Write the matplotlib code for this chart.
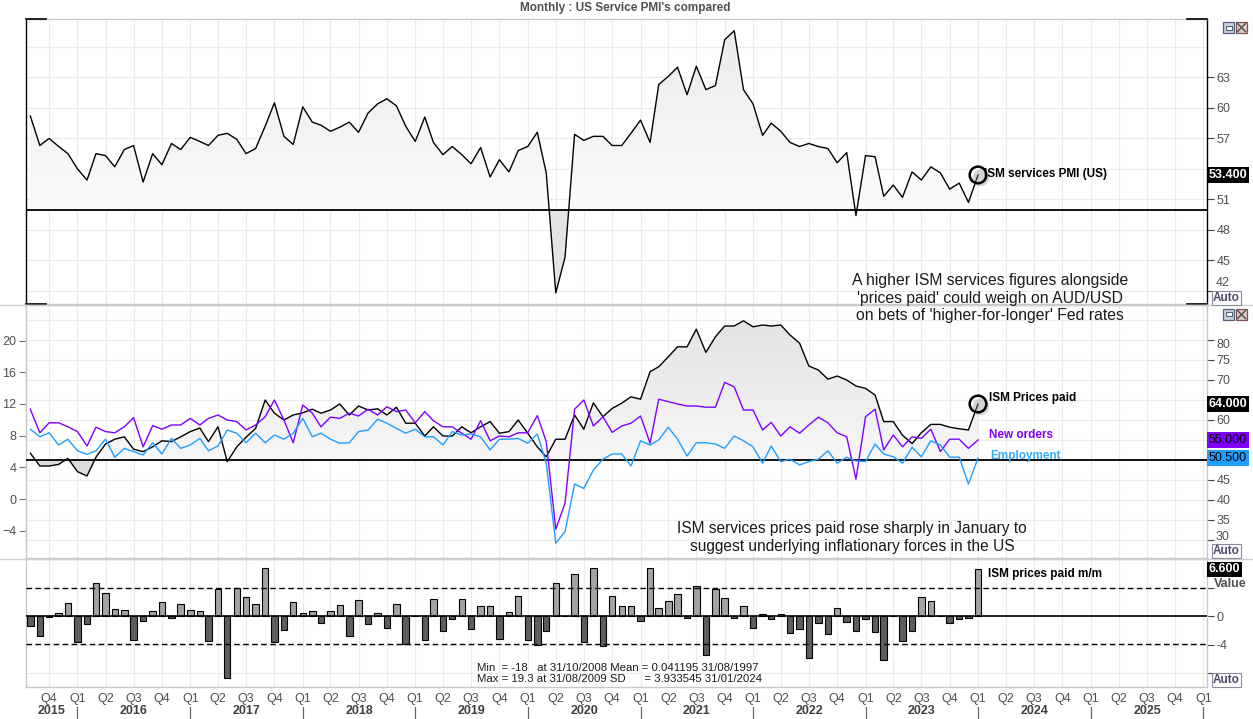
import numpy as np
import pandas as pd
import matplotlib
matplotlib.use('Agg')
import matplotlib.pyplot as plt
import matplotlib.dates as mdates
import matplotlib.patheffects as pe
from matplotlib.lines import Line2D
from matplotlib.patches import Rectangle, PathPatch
from matplotlib.path import Path
from matplotlib.colors import LinearSegmentedColormap

# ---- data, monthly Aug 2015 .. Jan 2024 ----
months = pd.date_range('2015-08-01', '2024-01-01', freq='MS')

ism_pmi = [59.2, 56.3, 57.0, 56.2, 55.5, 54.0, 52.9, 55.5, 55.3, 54.2, 55.9, 56.3, 52.7, 55.5, 54.4, 56.5,
           55.9, 57.1, 56.7, 56.3, 57.3, 57.5, 56.9, 55.5, 56.0, 58.2, 60.5, 57.2, 56.4, 60.1, 58.6, 58.3,
           57.7, 58.1, 58.6, 57.6, 59.5, 60.4, 60.9, 60.2, 58.2, 56.7, 59.1, 56.6, 55.4, 56.2, 55.4, 54.5,
           56.1, 53.2, 54.9, 53.7, 55.8, 56.2, 57.6, 53.6, 41.8, 45.3, 57.4, 56.8, 57.2, 57.2, 56.3, 56.3,
           57.5, 58.8,
           56.6, 62.3, 63.1, 64.0, 61.3, 64.1, 61.8, 62.2, 66.7, 67.6, 61.8, 60.4, 57.3, 58.5, 57.7, 56.6,
           56.2, 56.5, 56.2, 56.0, 54.6, 55.6, 49.4, 55.3, 55.2, 51.3, 52.4, 51.2, 53.7, 52.9, 54.2, 53.6,
           52.0, 52.6, 50.7, 53.4]

prices_paid = [51.7, 48.5, 48.5, 48.9, 50.4, 47.1, 46.0, 50.7, 54.0, 55.2, 55.8, 52.7, 52.1, 53.3, 54.8, 54.6,
               55.8, 57.1, 58.0, 54.6, 58.3, 49.6, 53.3, 55.7, 57.9, 65.0, 61.7, 60.0, 61.25, 61.8, 62.7, 61.7,
               62.5, 64.0, 61.25, 63.5, 62.5, 62.8, 61.25, 63.2, 59.2, 59.2, 56.0, 58.3, 56.0, 56.0, 58.3, 56.8,
               58.3, 59.6, 56.7, 57.1, 60.0, 56.7, 53.3, 50.8, 55.2, 55.2, 61.25, 57.7, 64.3, 60.8, 62.9, 64.2,
               65.8, 65.2,
               72.1, 73.3, 75.8, 78.3, 78.3, 82.7, 76.9, 80.8, 83.5, 83.5, 84.8, 83.3, 83.75, 83.5, 83.75, 81.25,
               79.2, 73.5, 72.5, 70.2, 71.0, 70.0, 68.5, 67.9, 66.25, 59.6, 59.6, 56.2, 54.1, 56.8, 58.9, 58.9,
               58.2, 57.8, 57.5, 64.0]

new_orders = [62.7, 56.8, 59.3, 59.3, 58.3, 57.1, 53.5, 58.2, 57.1, 56.8, 58.3, 60.6, 53.3, 58.6, 57.7, 58.75,
              58.75, 60.4, 58.75, 60.4, 61.25, 60.0, 59.6, 57.5, 58.75, 60.8, 65.0, 60.0, 54.3, 63.75, 61.7, 58.3,
              60.7, 60.4, 61.7, 61.0, 62.7, 61.25, 63.3, 62.1, 62.5, 59.3, 62.1, 59.8, 58.3, 58.3, 56.7, 55.2,
              59.8, 54.8, 56.0, 55.8, 56.8, 56.8, 61.1, 54.6, 32.7, 39.2, 62.7, 65.0, 58.5, 60.8, 56.9, 58.5,
              59.2, 61.0,
              54.2, 65.2, 64.6, 64.0, 63.5, 63.5, 63.2, 63.2, 69.4, 68.3, 62.5, 62.5, 57.5, 59.4, 56.0, 58.3,
              56.7, 58.75, 60.7, 59.3, 56.8, 55.8, 45.2, 60.8, 62.7, 52.5, 56.25, 53.3, 55.8, 55.4, 57.7, 52.1,
              55.2, 55.2, 52.9, 55.0]

employment = [57.7, 55.8, 56.8, 53.75, 55.2, 52.3, 51.4, 52.3, 55.2, 50.7, 52.9, 52.1, 51.25, 54.3, 51.5, 55.4,
              52.9, 53.75, 55.4, 52.3, 53.5, 57.5, 56.7, 54.3, 56.7, 54.3, 56.25, 55.2, 56.7, 60.4, 55.8, 56.7,
              55.2, 54.2, 54.3, 57.1, 57.5, 60.2, 59.2, 57.9, 56.7, 57.7, 55.8, 55.8, 53.75, 57.1, 56.25, 56.5,
              55.8, 52.5, 55.2, 55.2, 55.4, 54.2, 56.5, 49.2, 29.2, 32.1, 44.0, 42.9, 47.5, 50.2, 51.5, 51.5,
              48.5, 54.8,
              53.75, 55.0, 58.2, 55.2, 51.0, 54.3, 54.3, 54.0, 52.9, 56.0, 54.8, 53.3, 49.2, 53.5, 49.6, 50.2,
              48.75, 49.6, 50.2, 52.3, 49.2, 50.7, 49.75, 49.6, 54.0, 51.5, 50.8, 49.2, 53.2, 50.8, 54.8, 53.75,
              50.7, 50.7, 44.0, 50.5]

prices_mm = [-1.4, -2.8, -0.14, 0.47, 1.86, -3.6, -1.07, 4.65, 3.26, 1.0, 0.93, -3.35, -0.7, 0.74, 2.05, -0.28,
             1.72, 0.88, 0.74, -3.5, 3.9, -8.74, 3.95, 2.7, 1.72, 6.74, -3.6, -1.95, 2.0, 0.47, 0.74, -0.98,
             0.74, 1.58, -2.8, 2.28, -1.1, 0.47, -1.67, 1.72, -3.86, 0.0, -3.35, 2.42, -2.05, -0.37, 2.42, -1.77,
             1.49, 1.49, -3.16, 0.65, 2.88, -3.3, -4.0, -2.05, 4.65, 0.0, 5.9, -3.6, 6.74, -4.23, 2.88, 1.49,
             1.49,
             -0.65, 6.74, 1.16, 2.19, 3.1, -0.28, 4.28, -5.5, 3.9, 2.56, -0.28, 1.44, -1.67, 0.33, -0.37, 0.33,
             -2.33, -1.77, -5.8, -0.98, -2.5, 1.16, -0.84, -2.05, -0.37, -2.19, -6.1, 0.0, -3.5, -2.05, 2.7, 2.14,
             0.0, -0.98, -0.37, -0.23, 6.6]

mm_mean = 0.041195
mm_sd = 3.933545

top_ticks = [42, 45, 48, 51, 54, 57, 60, 63]
top_hidden = [54]           # covered by the last-value box
mid_ticks = [30, 35, 40, 45, 50, 55, 60, 65, 70, 75, 80]
mid_hidden = [50, 55, 65]
mid_left_ticks = [-4, 0, 4, 8, 12, 16, 20]
bot_ticks = [-8, -4, 0, 4]

PURPLE = '#8000ff'
BLUE = '#1e9eff'
GRID = '#ebebeb'
SANS = ['Liberation Sans', 'DejaVu Sans']
NARROW = ['Liberation Sans Narrow', 'Liberation Sans', 'DejaVu Sans']

W, H = 1253, 719
def fx(px):
    return px / W
def fy(py):
    return 1 - py / H


def shade(ax, x, y, base, top_val, dark, light, below):
    xn = mdates.date2num(x)
    y = np.asarray(y, float)
    up = ax.fill_between(xn, y, base, where=y >= base, interpolate=True,
                         facecolor='none', edgecolor='none', zorder=1)
    ax.fill_between(xn, y, base, where=y <= base, interpolate=True,
                    facecolor=below, edgecolor='none', zorder=1)
    clip = PathPatch(Path.make_compound_path(*up.get_paths()), transform=ax.transData,
                     facecolor='none', edgecolor='none')
    ax.add_patch(clip)
    cmap = LinearSegmentedColormap.from_list('shade', [light, dark])
    im = ax.imshow(np.linspace(0, 1, 256).reshape(-1, 1), extent=[xn[0], xn[-1], base, top_val],
                   origin='lower', aspect='auto', cmap=cmap, zorder=1, interpolation='bilinear')
    im.set_clip_path(clip)


def last_box(ax, val, fc, tc, bold=True):
    ax.text(1.0015, val, '%.3f' % val, transform=ax.get_yaxis_transform(), ha='left', va='center',
            color=tc, fontsize=9, fontweight='bold' if bold else 'normal', family=SANS, zorder=10,
            clip_on=False, bbox=dict(boxstyle='square,pad=0.14', fc=fc, ec='none'))


def tick_text(ax, val, txt, dy=0):
    # right-hand tick label that is nudged (as the source chart does near the edges)
    ax.annotate(txt, xy=(1.0, val), xycoords=ax.get_yaxis_transform(), xytext=(6.5, dy),
                textcoords='offset points', ha='left', va='center', fontsize=9, color='#505050',
                family=SANS, annotation_clip=False)


fig = plt.figure(figsize=(12.53, 7.19), dpi=100)
fig.patch.set_facecolor('white')
left, width = fx(26), (1207 - 26) / W
ax1 = fig.add_axes([left, fy(304), width, (304 - 19) / H])
ax2 = fig.add_axes([left, fy(558), width, (558 - 305) / H], sharex=ax1)
ax3 = fig.add_axes([left, fy(687), width, (687 - 559) / H], sharex=ax1)

quarters = pd.date_range('2015-10-01', '2026-01-01', freq='QS')
x_lo = pd.Timestamp('2015-07-18')
x_hi = pd.Timestamp('2026-01-13')

# ---------------- top panel ----------------
ax1.plot(months, ism_pmi, color='black', lw=1.0, zorder=4)
shade(ax1, months, ism_pmi, 50, 68, '#ebebeb', '#fbfbfb', '#e4e4e4')
ax1.axhline(50, color='black', lw=1.3, zorder=3)
ax1.axhline(66, color=GRID, lw=0.8, zorder=0)
ax1.plot(months[-1], ism_pmi[-1], 'o', ms=12, mfc='none', mec='black', mew=1.8, zorder=6,
         path_effects=[pe.SimplePatchShadow(offset=(2, -2), shadow_rgbFace='#888888', alpha=0.35), pe.Normal()])
ax1.annotate('ISM services PMI (US)', xy=(months[-1], ism_pmi[-1]), xytext=(4, 1),
             textcoords='offset points', va='center', ha='left', fontsize=8.5, fontweight='bold',
             family=SANS, zorder=7)
ax1.set_ylim(40.7, 68.75)
ax1.set_yticks(top_ticks)
ax1.set_yticklabels(['' if (t in top_hidden or t == 42) else str(t) for t in top_ticks])
tick_text(ax1, 42, '42', dy=5.5)
last_box(ax1, ism_pmi[-1], 'black', 'white')

# ---------------- middle panel ----------------
ax2.plot(months, prices_paid, color='black', lw=1.0, zorder=4)
ax2.plot(months, new_orders, color=PURPLE, lw=1.0, zorder=4)
ax2.plot(months, employment, color=BLUE, lw=1.0, zorder=4)
shade(ax2, months, prices_paid, 50, 86, '#e3e3e3', '#f7f7f7', '#dcdcdc')
ax2.axhline(50, color='black', lw=1.3, zorder=3)
ax2.axhline(85, color=GRID, lw=0.8, zorder=0)
ax2.plot(months[-1], prices_paid[-1], 'o', ms=12, mfc='none', mec='black', mew=1.8, zorder=6,
         path_effects=[pe.SimplePatchShadow(offset=(2, -2), shadow_rgbFace='#888888', alpha=0.35), pe.Normal()])
ax2.annotate('ISM Prices paid', xy=(months[-1], prices_paid[-1]), xytext=(8, 4),
             textcoords='offset points', va='center', ha='left', fontsize=8.5, fontweight='bold',
             family=SANS, zorder=7)
ax2.annotate('New orders', xy=(months[-1], 56.3), xytext=(8, 0), color=PURPLE,
             textcoords='offset points', va='center', ha='left', fontsize=8.5, fontweight='bold',
             family=SANS, zorder=7)
ax2.annotate('Employment', xy=(months[-1], 51.0), xytext=(9, 0), color='#35acff',
             textcoords='offset points', va='center', ha='left', fontsize=8.5, fontweight='bold',
             family=SANS, zorder=7)
ax2.set_ylim(25.5, 88.75)
ax2.set_yticks(mid_ticks)
ax2.set_yticklabels(['' if (t in mid_hidden or t in (30, 80)) else str(t) for t in mid_ticks])
tick_text(ax2, 80, '80', dy=-3.5)
tick_text(ax2, 30, '30', dy=2.5)
last_box(ax2, prices_paid[-1], 'black', 'white')
last_box(ax2, new_orders[-1], PURPLE, 'black', bold=False)
last_box(ax2, employment[-1], BLUE, 'black', bold=False)

sec = ax2.secondary_yaxis('left', functions=(lambda r: (r - 40.25) / 1.98, lambda l: 40.25 + 1.98 * l))
sec.set_yticks(mid_left_ticks)
sec.tick_params(axis='y', direction='out', length=5, pad=2, labelsize=9, labelcolor='#505050', color='#777777')
for lab in sec.get_yticklabels():
    lab.set_family(SANS)
sec.spines['left'].set_color('#c8c8c8')

# ---------------- bottom panel ----------------
bar_cols = ['#a3a3a3' if v >= 0 else '#5e5e5e' for v in prices_mm]
ax3.bar(months, prices_mm, width=21, color=bar_cols, edgecolor='black', linewidth=0.8, zorder=4)
ax3.axhline(0, color='black', lw=1.2, zorder=5)
ax3.axhline(mm_mean + mm_sd, color='black', lw=1.0, dashes=(4, 2.5), zorder=5)
ax3.axhline(mm_mean - mm_sd, color='black', lw=1.0, dashes=(4, 2.5), zorder=5)
ax3.annotate('ISM prices paid m/m', xy=(months[-1], 5.9), xytext=(7, 0), textcoords='offset points',
             va='center', ha='left', fontsize=8.5, fontweight='bold', family=SANS, zorder=7)
ax3.set_ylim(-9.94, 8.05)
ax3.set_yticks(bot_ticks)
ax3.set_yticklabels(['' if t not in (0, -4) else str(t) for t in bot_ticks])
last_box(ax3, prices_mm[-1], 'black', 'white')
ax3.text(1.006, 4.5, 'Value', transform=ax3.get_yaxis_transform(), ha='left', va='center',
         color='#505050', fontsize=9, fontweight='bold', family=SANS)

# ---------------- common styling ----------------
for ax in (ax1, ax2, ax3):
    ax.set_xlim(x_lo, x_hi)
    ax.set_xticks(quarters)
    ax.grid(True, color=GRID, lw=0.8, zorder=0)
    ax.set_axisbelow(True)
    ax.yaxis.tick_right()
    ax.tick_params(axis='y', direction='out', length=5, pad=2, labelsize=9, labelcolor='#505050',
                   color='#444444', left=False, right=True)
    for lab in ax.get_yticklabels():
        lab.set_family(SANS)
    for s in ax.spines.values():
        s.set_color('#c8c8c8')
        s.set_linewidth(1.0)
    ax.set_facecolor('white')

ax1.tick_params(axis='x', length=0, labelbottom=False)
ax2.tick_params(axis='x', length=0, labelbottom=False)
ax3.set_xticklabels(['Q%d' % ((d.month - 1) // 3 + 1) for d in quarters])
ax3.tick_params(axis='x', length=0, pad=4, labelsize=9, labelcolor='#505050')
for lab in ax3.get_xticklabels():
    lab.set_family(SANS)

# top panel black bracket frame
ax1.spines['left'].set_color('black')
ax1.spines['right'].set_color('black')
for xa, xb in [(0, 0.017), (0.983, 1.0)]:
    for yy in (0, 1):
        ax1.add_line(Line2D([xa, xb], [yy, yy], transform=ax1.transAxes, color='black', lw=1.2,
                            clip_on=False, zorder=8))

# year labels and separators
xt = ax3.get_xaxis_transform()
for yr in range(2015, 2026):
    a = max(pd.Timestamp('%d-01-01' % yr), x_lo)
    b = pd.Timestamp('%d-01-01' % (yr + 1))
    mid = a + (b - a) / 2
    ax3.text(mid, -0.19, str(yr), transform=xt, ha='center', va='center', fontsize=9,
             fontweight='bold', color='#404040', clip_on=False, family=SANS)
    ax3.add_line(Line2D([b, b], [-0.155, -0.26], transform=xt, color='#666666', lw=0.9, clip_on=False))

# panel separators
for py in (304.5, 558.5):
    fig.add_artist(Line2D([0, 1], [fy(py), fy(py)], color='#cfcfcf', lw=1.0))

# title and comments
fig.text(fx(625), fy(8), "Monthly : US Service PMI's compared", ha='center', va='center', fontsize=8.5,
         fontweight='bold', color='#505050', family=SANS)
fig.text(fx(990), fy(298), "A higher ISM services figures alongside\n'prices paid' could weigh on AUD/USD\n"
         "on bets of 'higher-for-longer' Fed rates", ha='center', va='center', fontsize=11.3,
         color='#1a1a1a', linespacing=1.2, family=NARROW, zorder=20)
fig.text(fx(852), fy(537.5), "ISM services prices paid rose sharply in January to\n"
         "suggest underlying inflationary forces in the US", ha='center', va='center', fontsize=11.2,
         color='#1a1a1a', linespacing=1.25, family=NARROW, zorder=20)
fig.text(fx(477), fy(673.5), "Min  = -18   at 31/10/2008 Mean = 0.041195 31/08/1997\n"
         "Max = 19.3 at 31/08/2009 SD      = 3.933545 31/01/2024", ha='left', va='center',
         fontsize=8.2, color='#1a1a1a', linespacing=1.05, family=NARROW)

# "Auto" boxes and window icons
for py in (298, 551, 680):
    fig.text(fx(1213), fy(py), 'Auto', ha='left', va='center', fontsize=8.5, fontweight='bold',
             color='#4a4a6a', family=SANS,
             bbox=dict(boxstyle='square,pad=0.1', fc='white', ec='#8a8a9a', lw=0.8))
for py in (22, 309):
    fig.add_artist(Rectangle((fx(1223), fy(py + 11)), 11 / W, 11 / H, transform=fig.transFigure,
                             fc='#c9d2e2', ec='#55607a', lw=0.9))
    fig.add_artist(Rectangle((fx(1225.5), fy(py + 7.5)), 6 / W, 4 / H, transform=fig.transFigure,
                             fc='white', ec='#55607a', lw=0.8))
    fig.add_artist(Rectangle((fx(1236), fy(py + 11)), 11 / W, 11 / H, transform=fig.transFigure,
                             fc='#e6c9c9', ec='#7a5555', lw=0.9))
    fig.add_artist(Line2D([fx(1237.5), fx(1245.5)], [fy(py + 1.5), fy(py + 9.5)], color='#555555', lw=1.1))
    fig.add_artist(Line2D([fx(1237.5), fx(1245.5)], [fy(py + 9.5), fy(py + 1.5)], color='#555555', lw=1.1))

fig.savefig('out.png', dpi=100)
